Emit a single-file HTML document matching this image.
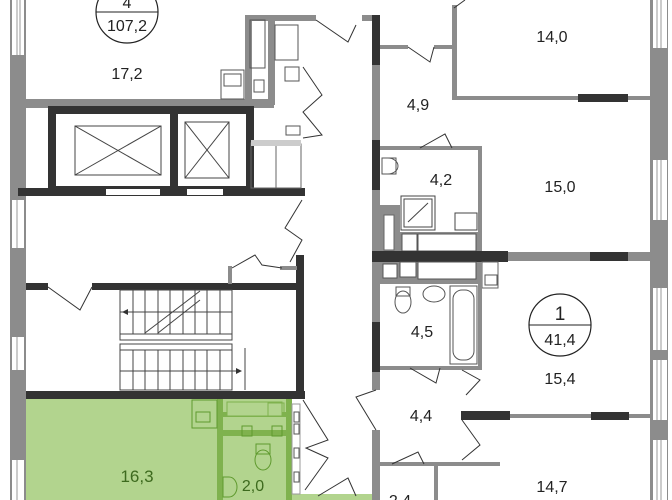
<!DOCTYPE html>
<html><head><meta charset="utf-8"><style>
html,body{margin:0;padding:0;background:#fff;}
svg{display:block;}
text{font-family:"Liberation Sans",sans-serif;fill:#222;}
</style></head><body>
<svg width="672" height="500" viewBox="0 0 672 500" xmlns="http://www.w3.org/2000/svg">
<rect width="672" height="500" fill="#fff"/>
<!-- green apartment -->
<rect x="26" y="398" width="266" height="102" fill="#b2d48e"/>
<rect x="217" y="398" width="6" height="102" fill="#7fb24e"/>
<rect x="223" y="412" width="63" height="5" fill="#7fb24e"/>
<rect x="223" y="430" width="63" height="6" fill="#7fb24e"/>
<rect x="286" y="398" width="6" height="102" fill="#7fb24e"/>
<rect x="192" y="400" width="25" height="28" fill="none" stroke="#5f9a2e" stroke-width="1"/>
<rect x="196" y="412" width="14" height="10" fill="none" stroke="#5f9a2e"/>
<rect x="227" y="402" width="55" height="14" fill="#b2d48e" stroke="#7fb24e"/>
<rect x="268" y="403" width="16" height="13" fill="none" stroke="#7fb24e"/>
<rect x="242" y="426" width="10" height="10" fill="none" stroke="#5f9a2e"/>
<rect x="272" y="426" width="10" height="10" fill="none" stroke="#5f9a2e"/>
<ellipse cx="263" cy="460" rx="8" ry="10" fill="none" stroke="#5f9a2e"/>
<rect x="256" y="444" width="14" height="10" fill="none" stroke="#5f9a2e"/>
<path d="M223 477 h6 a8 10 0 0 1 0 20 h-6 z" fill="none" stroke="#5f9a2e"/>
<text x="137" y="482" font-size="17" text-anchor="middle" style="fill:#3d6a1e">16,3</text>
<text x="253" y="491" font-size="16" text-anchor="middle" style="fill:#3d6a1e">2,0</text>
<rect x="292" y="494" width="80" height="6" fill="#b2d48e"/>

<!-- left outer wall -->
<rect x="10" y="0" width="16" height="500" fill="#8c8c8c"/>
<rect x="12" y="0" width="12" height="55" fill="#fff"/><line x1="17" y1="0" x2="17" y2="55" stroke="#999"/><line x1="20" y1="0" x2="20" y2="55" stroke="#999"/>
<rect x="12" y="200" width="12" height="48" fill="#fff"/><line x1="17" y1="200" x2="17" y2="248" stroke="#999"/>
<rect x="12" y="337" width="12" height="33" fill="#fff"/><line x1="17" y1="337" x2="17" y2="370" stroke="#999"/>
<rect x="12" y="460" width="12" height="40" fill="#fff"/><line x1="17" y1="460" x2="17" y2="500" stroke="#999"/>

<!-- top left room -->
<rect x="26" y="99" width="248" height="9" fill="#8c8c8c"/>
<rect x="245" y="15" width="7" height="88" fill="#8c8c8c"/>
<rect x="268" y="15" width="7" height="90" fill="#8c8c8c"/>
<rect x="252" y="15" width="64" height="6" fill="#8c8c8c"/>
<rect x="250" y="20" width="15" height="48" fill="none" stroke="#555"/>
<rect x="275" y="25" width="23" height="35" fill="none" stroke="#555"/>
<rect x="254" y="80" width="10" height="12" fill="none" stroke="#555"/>
<rect x="285" y="67" width="14" height="14" fill="none" stroke="#555"/>
<rect x="221" y="70" width="23" height="29" fill="none" stroke="#555"/>
<rect x="224" y="74" width="17" height="12" fill="none" stroke="#555"/>
<rect x="362" y="15" width="12" height="6" fill="#8c8c8c"/>
<circle cx="127" cy="12" r="31" fill="#fff" stroke="#222" stroke-width="1.2"/>
<line x1="96" y1="12" x2="158" y2="12" stroke="#222"/>
<text x="127" y="8" font-size="16" text-anchor="middle">4</text>
<text x="127" y="31" font-size="16" text-anchor="middle">107,2</text>
<text x="127" y="79" font-size="16" text-anchor="middle">17,2</text>
<polyline points="316,20 348,42 356,25" fill="none" stroke="#333"/>
<polyline points="303,67 322,95 303,112 322,135 303,138" fill="none" stroke="#333"/>
<rect x="286" y="126" width="14" height="9" fill="none" stroke="#555"/>

<!-- elevator block -->
<rect x="52" y="110" width="198" height="80" fill="none" stroke="#333" stroke-width="8"/>
<rect x="170" y="110" width="8" height="80" fill="#333"/>
<rect x="18" y="188" width="287" height="8" fill="#333"/>
<rect x="106" y="189" width="54" height="6" fill="#fff"/>
<rect x="187" y="189" width="36" height="6" fill="#fff"/>
<rect x="75" y="126" width="86" height="49" fill="none" stroke="#444"/>
<line x1="75" y1="126" x2="161" y2="175" stroke="#444"/><line x1="161" y1="126" x2="75" y2="175" stroke="#444"/>
<rect x="185" y="122" width="44" height="56" fill="none" stroke="#444"/>
<line x1="185" y1="122" x2="229" y2="178" stroke="#444"/><line x1="229" y1="122" x2="185" y2="178" stroke="#444"/>
<rect x="251" y="143" width="25" height="45" fill="none" stroke="#666"/>
<rect x="276" y="144" width="25" height="44" fill="none" stroke="#666"/>
<rect x="251" y="140" width="50" height="6" fill="#ccc"/>
<polyline points="302,200 285,228 302,240 290,262" fill="none" stroke="#333"/>

<!-- stair -->
<rect x="26" y="283" width="22" height="7" fill="#333"/>
<rect x="92" y="283" width="208" height="7" fill="#333"/>
<polyline points="48,287 80,310 92,287" fill="none" stroke="#333"/>
<rect x="296" y="255" width="8" height="143" fill="#333"/>
<rect x="26" y="391" width="279" height="8" fill="#333"/>
<rect x="228" y="266" width="4" height="18" fill="#8c8c8c"/>
<rect x="280" y="266" width="17" height="4" fill="#8c8c8c"/>
<polyline points="232,268 255,255 262,265 282,268" fill="none" stroke="#333"/>
<g stroke="#444" fill="none">
<rect x="120" y="290" width="112" height="50"/>
<rect x="120" y="334" width="112" height="6"/>
<rect x="120" y="344" width="112" height="6"/>
<rect x="120" y="350" width="112" height="40"/>
<line x1="120" y1="312" x2="232" y2="312"/>
<line x1="120" y1="371" x2="232" y2="371"/>
<path d="M133 290V334M145 290V334M158 290V334M170 290V334M183 290V334M195 290V334M207 290V334M220 290V334"/>
<path d="M133 350V390M145 350V390M158 350V390M170 350V390M183 350V390M195 350V390M207 350V390M220 350V390"/>
<line x1="145" y1="333" x2="200" y2="291"/><line x1="158" y1="333" x2="200" y2="300"/>
<line x1="245" y1="348" x2="245" y2="390"/>
<line x1="190" y1="371" x2="240" y2="371"/>
</g>
<path d="M122 312 l6 -3 v6z M242 371 l-6 -3 v6z" fill="#333"/>

<!-- corridor doors lower -->
<rect x="292" y="404" width="8" height="90" fill="#fff" stroke="#999"/>
<rect x="294" y="412" width="5" height="10" fill="#fff" stroke="#555"/>
<rect x="294" y="424" width="5" height="10" fill="#fff" stroke="#555"/>
<rect x="294" y="448" width="5" height="10" fill="#fff" stroke="#555"/>
<rect x="294" y="472" width="5" height="10" fill="#fff" stroke="#555"/>
<polyline points="303,400 328,440 306,448 328,458 305,490" fill="none" stroke="#333"/>
<polyline points="318,496 348,478 356,496" fill="none" stroke="#333"/>

<!-- central corridor right wall -->
<rect x="372" y="15" width="8" height="375" fill="#8c8c8c"/>
<rect x="372" y="430" width="8" height="70" fill="#8c8c8c"/>
<rect x="372" y="15" width="8" height="50" fill="#333"/>
<rect x="372" y="140" width="8" height="50" fill="#333"/>
<rect x="372" y="322" width="8" height="50" fill="#333"/>
<polyline points="376,390 356,397 376,430" fill="none" stroke="#333"/>

<!-- right apartment -->
<rect x="650" y="0" width="18" height="500" fill="#8c8c8c"/>
<g fill="#fff"><rect x="653" y="0" width="14" height="48"/><rect x="653" y="160" width="14" height="60"/><rect x="653" y="288" width="14" height="62"/><rect x="653" y="360" width="14" height="60"/><rect x="653" y="440" width="14" height="60"/></g>
<g stroke="#999"><path d="M657 0V48M661 0V48M657 160V220M661 160V220M657 288V350M661 288V350M657 360V420M661 360V420M657 440V500M661 440V500"/></g>
<rect x="452" y="5" width="5" height="95" fill="#8c8c8c"/>
<rect x="452" y="96" width="198" height="4" fill="#8c8c8c"/>
<rect x="578" y="94" width="50" height="8" fill="#333"/>
<rect x="380" y="45" width="28" height="4" fill="#8c8c8c"/>
<rect x="434" y="45" width="20" height="4" fill="#8c8c8c"/>
<polyline points="408,47 430,62 434,47" fill="none" stroke="#333"/>
<polyline points="454,8 465,0" fill="none" stroke="#333"/>
<text x="552" y="42" font-size="16" text-anchor="middle">14,0</text>
<text x="418" y="110" font-size="16" text-anchor="middle">4,9</text>

<!-- bath 4.2 -->
<rect x="380" y="146" width="102" height="4" fill="#8c8c8c"/>
<rect x="478" y="146" width="4" height="106" fill="#8c8c8c"/>
<polyline points="420,148 445,134 452,148" fill="none" stroke="#333"/>
<rect x="382" y="158" width="14" height="16" fill="none" stroke="#555"/>
<path d="M388 158 a10 8 0 0 1 0 16" fill="none" stroke="#555"/>
<rect x="380" y="205" width="20" height="50" fill="#8c8c8c"/>
<rect x="384" y="215" width="10" height="35" fill="#fff" stroke="#666"/>
<rect x="401" y="196" width="34" height="34" fill="#fff" stroke="#444"/>
<rect x="404" y="199" width="28" height="28" fill="none" stroke="#444"/>
<line x1="408" y1="222" x2="428" y2="203" stroke="#444"/>
<rect x="455" y="213" width="22" height="17" fill="none" stroke="#444"/>
<rect x="400" y="232" width="78" height="20" fill="#8c8c8c"/>
<rect x="402" y="234" width="15" height="17" fill="#fff" stroke="#555"/>
<rect x="418" y="234" width="58" height="17" fill="#fff" stroke="#555"/>
<text x="441" y="185" font-size="16" text-anchor="middle">4,2</text>
<text x="560" y="192" font-size="16" text-anchor="middle">15,0</text>

<!-- mid wall -->
<rect x="372" y="252" width="278" height="9" fill="#8c8c8c"/>
<rect x="372" y="251" width="136" height="11" fill="#333"/>
<rect x="590" y="252" width="38" height="9" fill="#333"/>

<!-- bath 4.5 -->
<rect x="380" y="262" width="100" height="22" fill="#8c8c8c"/>
<rect x="383" y="264" width="14" height="14" fill="#fff" stroke="#555"/>
<rect x="400" y="262" width="16" height="15" fill="#fff" stroke="#555"/>
<rect x="418" y="262" width="58" height="17" fill="#fff" stroke="#555"/>
<rect x="482" y="262" width="16" height="26" fill="#fff" stroke="#666"/>
<rect x="485" y="275" width="12" height="10" fill="none" stroke="#555"/>
<rect x="478" y="262" width="4" height="108" fill="#8c8c8c"/>
<rect x="380" y="366" width="102" height="4" fill="#8c8c8c"/>
<ellipse cx="403" cy="302" rx="8" ry="11" fill="none" stroke="#555"/>
<rect x="396" y="287" width="14" height="9" fill="none" stroke="#555"/>
<ellipse cx="434" cy="294" rx="11" ry="8" fill="none" stroke="#555"/>
<rect x="450" y="286" width="27" height="78" fill="none" stroke="#555"/>
<rect x="453" y="290" width="21" height="70" rx="9" fill="none" stroke="#555"/>
<text x="422" y="337" font-size="16" text-anchor="middle">4,5</text>
<polyline points="410,368 436,383 440,368" fill="none" stroke="#333"/>
<polyline points="462,370 480,380 466,395" fill="none" stroke="#333"/>
<circle cx="560" cy="325" r="31" fill="#fff" stroke="#222" stroke-width="1.2"/>
<line x1="529" y1="325" x2="591" y2="325" stroke="#222"/>
<text x="560" y="320" font-size="19" text-anchor="middle">1</text>
<text x="560" y="345" font-size="16" text-anchor="middle">41,4</text>
<text x="560" y="384" font-size="16" text-anchor="middle">15,4</text>

<!-- lower wall -->
<rect x="461" y="414" width="189" height="4" fill="#8c8c8c"/>
<rect x="461" y="411" width="49" height="9" fill="#333"/>
<rect x="591" y="412" width="38" height="8" fill="#333"/>
<polyline points="462,420 480,445 462,460" fill="none" stroke="#333"/>
<text x="421" y="421" font-size="16" text-anchor="middle">4,4</text>
<rect x="380" y="462" width="120" height="4" fill="#8c8c8c"/>
<rect x="434" y="462" width="4" height="38" fill="#8c8c8c"/>
<polyline points="392,464 418,452 424,464" fill="none" stroke="#333"/>
<text x="552" y="492" font-size="16" text-anchor="middle">14,7</text>
<text x="400" y="506" font-size="16" text-anchor="middle">2,4</text>
</svg>
</body></html>
